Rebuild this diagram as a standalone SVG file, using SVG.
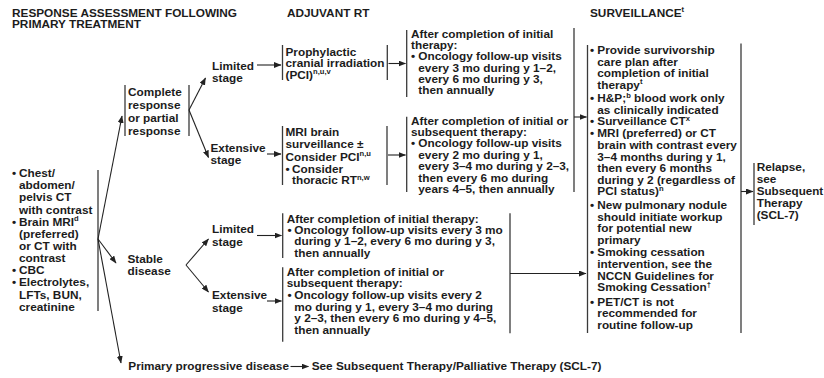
<svg xmlns="http://www.w3.org/2000/svg" width="824" height="378" viewBox="0 0 824 378">
<style>
text { font-family: "Liberation Sans", Arial, Helvetica, sans-serif; font-weight: bold; font-size: 11.8px; fill: #1c1c1c; }
.sup { font-size: 7.6px; }
.bar { stroke: #3a3a3a; stroke-width: 1.3; fill: none; }
.c { stroke: #222; stroke-width: 1.1; fill: none; marker-end: url(#ah); }
</style>
<defs>
<marker id="ah" markerUnits="userSpaceOnUse" markerWidth="8" markerHeight="6" refX="7" refY="3" orient="auto">
<path d="M0,0 L7.5,3 L0,6 z" fill="#222"/>
</marker>
</defs>
<rect width="824" height="378" fill="#ffffff"/>

<g id="headers">
<text x="12" y="16.7">RESPONSE ASSESSMENT FOLLOWING</text>
<text x="12" y="28.3">PRIMARY TREATMENT</text>
<text x="287" y="16.7">ADJUVANT RT</text>
<text x="590" y="16.5">SURVEILLANCE<tspan class="sup" dy="-4.5">t</tspan></text>
</g>

<g id="workup">
<line class="bar" x1="98" y1="170" x2="98" y2="311"/>
<text x="12" y="177">•</text><text x="19" y="177">Chest/</text>
<text x="19" y="189.2">abdomen/</text>
<text x="19" y="201.3">pelvis CT</text>
<text x="19" y="213.5">with contrast</text>
<text x="12" y="225.6">•</text><text x="19" y="225.6">Brain MRI<tspan class="sup" dy="-4.5">d</tspan></text>
<text x="19" y="237.8">(preferred)</text>
<text x="19" y="249.9">or CT with</text>
<text x="19" y="262.1">contrast</text>
<text x="12" y="274.2">•</text><text x="19" y="274.2">CBC</text>
<text x="12" y="286.4">•</text><text x="19" y="286.4">Electrolytes,</text>
<text x="19" y="298.5">LFTs, BUN,</text>
<text x="19" y="310.7">creatinine</text>
</g>

<g id="complete-response">
<line class="bar" x1="125" y1="85" x2="125" y2="136"/>
<line class="bar" x1="189" y1="85" x2="189" y2="136"/>
<text x="128" y="95.5">Complete</text>
<text x="128" y="108.5">response</text>
<text x="128" y="121.5">or partial</text>
<text x="128" y="134.5">response</text>
</g>

<g id="cr-limited">
<text x="212" y="69.5">Limited</text>
<text x="212" y="82">stage</text>
</g>

<g id="cr-extensive">
<text x="210.5" y="151.7">Extensive</text>
<text x="210.5" y="164.3">stage</text>
</g>

<g id="pci">
<line class="bar" x1="282.5" y1="45" x2="282.5" y2="80"/>
<line class="bar" x1="387.3" y1="45" x2="387.3" y2="80"/>
<text x="285.5" y="55.5">Prophylactic</text>
<text x="285.5" y="67">cranial irradiation</text>
<text x="285.5" y="78.5">(PCI)<tspan class="sup" dy="-4.5">n,u,v</tspan></text>
</g>

<g id="mri-brain">
<line class="bar" x1="282.5" y1="126" x2="282.5" y2="185"/>
<line class="bar" x1="387" y1="126" x2="387" y2="185"/>
<text x="285.5" y="136">MRI brain</text>
<text x="285.5" y="148.3">surveillance ±</text>
<text x="285.5" y="160.5">Consider PCI<tspan class="sup" dy="-4.5">n,u</tspan></text>
<text x="285.5" y="172.5">•</text><text x="292" y="172.5">Consider</text>
<text x="292" y="184">thoracic RT<tspan class="sup" dy="-4.5">n,w</tspan></text>
</g>

<g id="followup-limited">
<line class="bar" x1="406.7" y1="30" x2="406.7" y2="97"/>
<text x="411" y="38">After completion of initial</text>
<text x="411" y="49.2">therapy:</text>
<text x="411" y="60.4">•</text><text x="418.3" y="60.4">Oncology follow-up visits</text>
<text x="418.3" y="71.6">every 3 mo during y 1–2,</text>
<text x="418.3" y="82.8">every 6 mo during y 3,</text>
<text x="418.3" y="94">then annually</text>
</g>

<g id="followup-extensive">
<line class="bar" x1="406.7" y1="116.7" x2="406.7" y2="192"/>
<text x="411" y="124.5">After completion of initial or</text>
<text x="411" y="135.9">subsequent therapy:</text>
<text x="411" y="147.3">•</text><text x="418.3" y="147.3">Oncology follow-up visits</text>
<text x="418.3" y="158.7">every 2 mo during y 1,</text>
<text x="418.3" y="170.1">every 3–4 mo during y 2–3,</text>
<text x="418.3" y="181.5">then every 6 mo during</text>
<text x="418.3" y="192.5">years 4–5, then annually</text>
<line class="bar" x1="574" y1="28" x2="574" y2="192"/>
</g>

<g id="stable-disease">
<text x="127.5" y="262.5">Stable</text>
<text x="127.5" y="275">disease</text>
</g>

<g id="sd-limited">
<text x="212" y="232.5">Limited</text>
<text x="212" y="245.5">stage</text>
</g>

<g id="sd-extensive">
<text x="212" y="299">Extensive</text>
<text x="212" y="311.5">stage</text>
</g>

<g id="sd-followup-limited">
<line class="bar" x1="282.7" y1="213.3" x2="282.7" y2="258"/>
<text x="286.7" y="222.7">After completion of initial therapy:</text>
<text x="287.5" y="234">•</text><text x="294.3" y="234">Oncology follow-up visits every 3 mo</text>
<text x="294.3" y="245.3">during y 1–2, every 6 mo during y 3,</text>
<text x="294.3" y="256.5">then annually</text>
</g>

<g id="sd-followup-extensive">
<line class="bar" x1="282.7" y1="267.3" x2="282.7" y2="341.7"/>
<text x="286.7" y="275.5">After completion of initial or</text>
<text x="286.7" y="287.2">subsequent therapy:</text>
<text x="287.5" y="298.9">•</text><text x="294.3" y="298.9">Oncology follow-up visits every 2</text>
<text x="294.3" y="310.6">mo during y 1, every 3–4 mo during</text>
<text x="294.3" y="322.3">y 2–3, then every 6 mo during y 4–5,</text>
<text x="294.3" y="334">then annually</text>
<line class="bar" x1="510" y1="213.3" x2="510" y2="333.3"/>
</g>

<g id="surveillance">
<line class="bar" x1="587.5" y1="45" x2="587.5" y2="333"/>
<line class="bar" x1="741" y1="43.5" x2="741" y2="333"/>
<text x="590" y="54">•</text><text x="597.3" y="54">Provide survivorship</text>
<text x="597.3" y="65.7">care plan after</text>
<text x="597.3" y="77.3">completion of initial</text>
<text x="597.3" y="88.5">therapy<tspan class="sup" dy="-4.5">t</tspan></text>
<text x="590" y="102.3">•</text><text x="597.3" y="102.3">H&amp;P;<tspan class="sup" dy="-4.5">b</tspan><tspan dy="4.5"> blood work only</tspan></text>
<text x="597.3" y="113.5">as clinically indicated</text>
<text x="590" y="125">•</text><text x="597.3" y="125">Surveillance CT<tspan class="sup" dy="-4.5">x</tspan></text>
<text x="590" y="137.3">•</text><text x="597.3" y="137.3">MRI (preferred) or CT</text>
<text x="597.3" y="149">brain with contrast every</text>
<text x="597.3" y="160.7">3–4 months during y 1,</text>
<text x="597.3" y="172.3">then every 6 months</text>
<text x="597.3" y="183.7">during y 2 (regardless of</text>
<text x="597.3" y="195">PCI status)<tspan class="sup" dy="-4.5">n</tspan></text>
<text x="590" y="209">•</text><text x="597.3" y="209">New pulmonary nodule</text>
<text x="597.3" y="220.7">should initiate workup</text>
<text x="597.3" y="232.3">for potential new</text>
<text x="597.3" y="244">primary</text>
<text x="590" y="255.7">•</text><text x="597.3" y="255.7">Smoking cessation</text>
<text x="597.3" y="268">intervention, see the</text>
<text x="597.3" y="280">NCCN Guidelines for</text>
<text x="597.3" y="291.3">Smoking Cessation<tspan class="sup" dy="-4.5">†</tspan></text>
<text x="590" y="305.7">•</text><text x="597.3" y="305.7">PET/CT is not</text>
<text x="597.3" y="317.3">recommended for</text>
<text x="597.3" y="329">routine follow-up</text>
</g>

<g id="relapse">
<line class="bar" x1="754" y1="163" x2="754" y2="225"/>
<text x="756.7" y="170.5">Relapse,</text>
<text x="756.7" y="182.5">see</text>
<text x="756.7" y="194.5" textLength="66.5" lengthAdjust="spacingAndGlyphs">Subsequent</text>
<text x="756.7" y="206.5">Therapy</text>
<text x="756.7" y="218.5">(SCL-7)</text>
</g>

<g id="progressive">
<text x="128.3" y="370">Primary progressive disease</text>
<text x="311.7" y="370">See Subsequent Therapy/Palliative Therapy (SCL-7)</text>
</g>

<g id="connectors">
<path class="c" d="M98,239 L122,116"/>
<path class="c" d="M98,239 L116,263"/>
<path class="c" d="M98,239 L121,363"/>
<path class="c" d="M189,110 L205.5,78"/>
<path class="c" d="M189,110 L208.5,157.5"/>
<path class="c" d="M257,65 L281,65"/>
<path class="c" d="M267,154 L281,154"/>
<path class="c" d="M388.5,63.5 L405.5,63.5"/>
<path class="c" d="M388,155 L405.5,155"/>
<path class="c" d="M574,117 L586.5,117"/>
<path class="c" d="M186,265 L208.5,239"/>
<path class="c" d="M186,265 L208.5,292"/>
<path class="c" d="M257,235.5 L281.5,235.5"/>
<path class="c" d="M267,301 L281.5,301"/>
<path class="c" d="M510,273.5 L586,273.5"/>
<path class="c" d="M741,191.5 L753,191.5"/>
<path class="c" d="M290.5,366.5 L308.5,366.5"/>
</g>
</svg>
